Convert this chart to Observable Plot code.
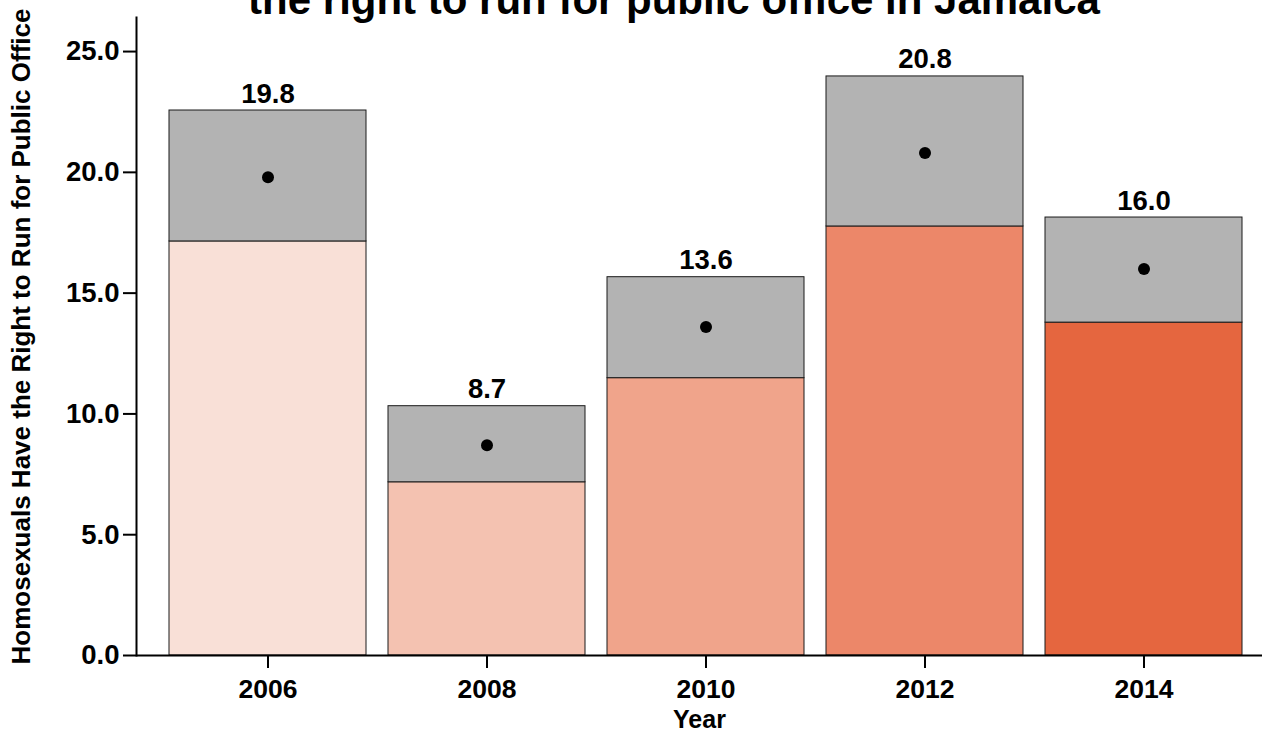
<!DOCTYPE html>
<html>
<head>
<meta charset="utf-8">
<script src="https://cdn.jsdelivr.net/npm/d3@7"></script>
<script src="https://cdn.jsdelivr.net/npm/@observablehq/plot@0.6"></script>
<style>
  html, body { margin: 0; padding: 0; background: #fff; overflow: hidden; }
  #wrap { position: relative; width: 1262px; height: 733px; overflow: hidden; }
  #title { position: absolute; top: -21px; left: 674px; transform: translateX(-50%);
           white-space: nowrap; font: bold 42px/1 "Liberation Sans", Arial, sans-serif; color: #000; }
  #chart { position: absolute; top: 0; left: 0; }
</style>
</head>
<body>
<div id="wrap">
  <div id="chart"></div>
  <div id="title">the right to run for public office in Jamaica</div>
</div>
<script>
const years = ["2006", "2008", "2010", "2012", "2014"];
const estimate = [19.8, 8.7, 13.6, 20.8, 16.0];
const lower = [17.14, 7.17, 11.48, 17.76, 13.78];
const upper = [22.56, 10.32, 15.66, 23.97, 18.13];
const fills = ["#f9e0d7", "#f4c2b1", "#f0a48b", "#ec8769", "#e5663f"];
const yTicks = [0, 5, 10, 15, 20, 25];

const data = years.map((y, i) => ({year: y, est: estimate[i], lo: lower[i], hi: upper[i], fill: fills[i]}));

const font = "Liberation Sans, Arial, sans-serif";

const chart = Plot.plot({
  width: 1262,
  height: 733,
  marginLeft: 136,
  marginRight: 0,
  marginTop: 17,
  marginBottom: 78,
  style: {fontFamily: font, fontSize: "27px", fontWeight: "bold", color: "#000", background: "white", overflow: "visible"},
  x: {type: "band", domain: years, range: [146.5, 1265], paddingInner: 0.1, paddingOuter: 0.1},
  y: {domain: [0, 26.41]},
  marks: [
    Plot.barY(data, {x: "year", y1: 0, y2: "lo", fill: "fill", stroke: "#1a1a1a", strokeWidth: 1}),
    Plot.barY(data, {x: "year", y1: "lo", y2: "hi", fill: "#b3b3b3", stroke: "#1a1a1a", strokeWidth: 1}),
    Plot.dot(data, {x: "year", y: "est", r: 6, fill: "#000", stroke: null}),
    Plot.text(data, {x: "year", y: "hi", text: d => d.est.toFixed(1), dy: -8, lineAnchor: "bottom",
                     fontSize: 27.5, fontWeight: "bold", fill: "#000"}),
    Plot.axisY({ticks: yTicks, tickFormat: d => d.toFixed(1), tickSize: 13, tickPadding: 4, strokeWidth: 2,
                fontSize: 27.5, label: null}),
    Plot.axisY({ticks: [], tickSize: 0,
                label: "Homosexuals Have the Right to Run for Public Office", labelAnchor: "center",
                labelArrow: "none", labelOffset: 125, fontSize: 26}),
    Plot.axisX({tickSize: 13, tickPadding: 11, strokeWidth: 2, fontSize: 26.5, label: null}),
    Plot.axisX({ticks: [], tickSize: 0, label: "Year", labelAnchor: "center",
                labelArrow: "none", labelOffset: 72.5, fontSize: 25}),
    Plot.frame({anchor: "left", strokeWidth: 2, stroke: "#000"}),
    Plot.ruleY([0], {strokeWidth: 2, stroke: "#000"})
  ]
});
document.getElementById("chart").appendChild(chart);
</script>
</body>
</html>
